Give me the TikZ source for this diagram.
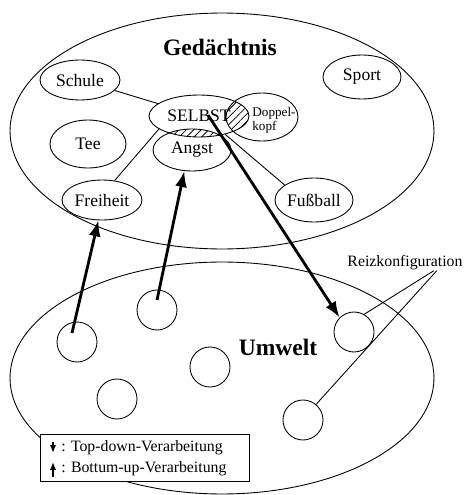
\documentclass[tikz,border=0pt]{standalone}
\usepackage{fontspec}
\setmainfont{Liberation Serif}
\usepackage{tikz}
\usetikzlibrary{positioning,shapes,arrows.meta,calc,patterns.meta}

\tikzset{
  topic/.style={draw, ellipse, line width=0.5pt, inner sep=0pt, font=\fontsize{10}{12}\selectfont},
  stimulus/.style={draw, circle, line width=0.5pt, minimum size=0.8cm, inner sep=0pt},
  realm/.style={draw, ellipse, line width=0.5pt, inner sep=0pt},
  link/.style={line width=0.5pt},
  flow/.style={line width=1.6pt, -{Latex[length=3.2mm,width=2.4mm]}},
  keyarrow/.style={line width=0.9pt, -{Latex[length=1.6mm,width=1.3mm]}},
  hatch/.style={pattern={Lines[angle=45,distance=3pt,line width=0.45pt]}},
  title/.style={font=\fontsize{13.4}{16}\selectfont\bfseries},
  keytext/.style={anchor=west, inner sep=0pt, font=\fontsize{9}{11}\selectfont},
}

\begin{document}
\begin{tikzpicture}[x=0.02cm, y=0.02cm]
  \fill[white] (0,0) rectangle (464,495);
  \useasboundingbox (0,0) rectangle (464,495);

  % memory and environment
  \node[realm, minimum width=8.48cm, minimum height=4.72cm] (memory) at (222,364) {};
  \node[title] (memorytitle) at (220,448) {Gedächtnis};
  \node[realm, minimum width=8.48cm, minimum height=4.64cm] (env) at (222,117) {};
  \node[title] (envtitle) at (278,148) {Umwelt};

  % concepts
  \node[topic, minimum width=1.6cm, minimum height=0.8cm] (schule) at (80,415) {Schule};
  \node[topic, minimum width=1.56cm, minimum height=0.88cm] (sport) at (362,418) {Sport};
  \node[topic, minimum width=2cm, minimum height=0.84cm] (selbst) at (199,379) {SELBST};
  \node[topic, minimum width=1.44cm, minimum height=0.96cm] (doppelkopf) at (262,378) {};
  \node[font=\fontsize{7.5}{6.5}\selectfont, align=left, inner sep=0pt] (dktext) at (274,375) {Doppel-\\kopf};
  \node[topic, minimum width=1.52cm, minimum height=0.96cm] (tee) at (88,351) {Tee};
  \node[topic, minimum width=1.56cm, minimum height=0.84cm] (angst) at (192,345) {Angst};
  \node[topic, minimum width=1.6cm, minimum height=0.8cm] (freiheit) at (102,295) {Freiheit};
  \node[topic, minimum width=1.56cm, minimum height=0.88cm] (fussball) at (314,295) {Fußball};

  % overlaps
  \begin{scope}
    \clip (selbst.center) ellipse [x radius=1cm, y radius=0.42cm];
    \fill[hatch] (doppelkopf.center) ellipse [x radius=0.72cm, y radius=0.48cm];
    \fill[hatch] (angst.center) ellipse [x radius=0.78cm, y radius=0.42cm];
  \end{scope}

  \draw[link] (schule) -- (selbst);
  \draw[link] (selbst.198) -- (freiheit.57);
  \draw[link] (selbst.-35) -- (fussball.153);

  % stimuli
  \node[stimulus] (c1) at (77,153) {};
  \node[stimulus] (c2) at (157,185) {};
  \node[stimulus] (c3) at (210,128) {};
  \node[stimulus] (c4) at (117,96) {};
  \node[stimulus] (c5) at (354,163) {};
  \node[stimulus] (c6) at (303,75) {};

  \node[font=\fontsize{9}{11}\selectfont, inner sep=0pt] (reiz) at (405,232) {Reizkonfiguration};
  \draw[link] ($(reiz.south)!0.5!(reiz.south east)$) -- (c5.60);
  \draw[link] ($(reiz.south)!0.55!(reiz.south east)$) -- (c6.50);

  % processing
  \draw[flow] ($(c1.center)+(-5,9)$) -- (freiheit.260);
  \draw[flow] ($(c2.center)+(0,10)$) -- (angst.250);
  \draw[flow] ($(selbst.center)+(9,1)$) -- (c5.north west);

  % key
  \node[draw, fill=white, line width=0.5pt, minimum width=4.18cm, minimum height=0.94cm, inner sep=0pt] (legend) at (144.5,37.5) {};
  \node[keytext] (legtd) at (61,47) {: Top-down-Verarbeitung};
  \node[keytext] (legbu) at (61,26) {: Bottum-up-Verarbeitung};
  \draw[keyarrow] ($(legtd.west)+(-8,6)$) -- ($(legtd.west)+(-8,-5)$);
  \draw[keyarrow] ($(legbu.west)+(-8,-8)$) -- ($(legbu.west)+(-8,7)$);
\end{tikzpicture}
\end{document}
